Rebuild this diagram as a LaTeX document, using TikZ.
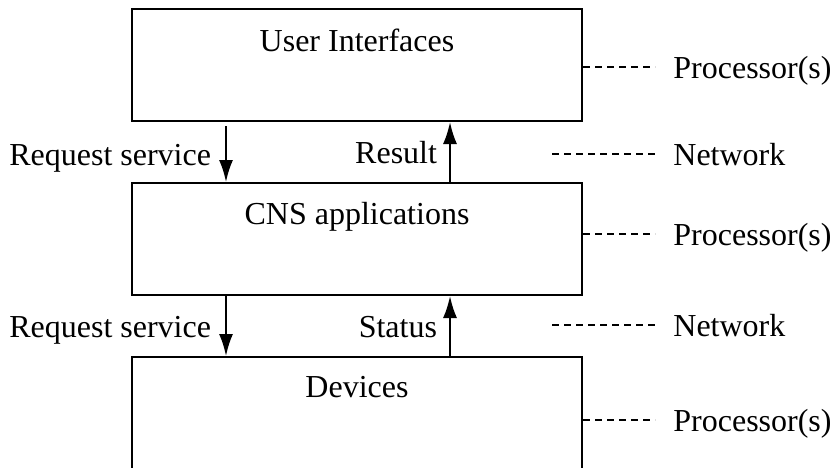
\documentclass[tikz,border=0pt]{standalone}
\usepackage{fontspec}
\setmainfont{Liberation Serif}
\usetikzlibrary{arrows.meta}

\begin{document}
\begin{tikzpicture}[x=0.5pt, y=-0.5pt,
    layer/.style={draw, line width=1pt, minimum width=225pt, minimum height=56pt, inner sep=0pt},
    txt/.style={font=\fontsize{16}{19}\selectfont, text height=11pt, text depth=0pt, inner sep=0pt},
    title/.style={txt, anchor=base},
    tag/.style={txt, anchor=west, inner xsep=9pt},
    flow/.style={line width=1pt, -{Latex[length=11pt, width=7pt]}},
    link/.style={line width=0.65pt, dash pattern=on 3.6pt off 2.4pt}]
            % Picture frame
            \clip (0,0) rectangle (833,467);

            % Draw the three layers
            \node[layer] (ui) at (357,65) {};
            \node[layer] (cns) at (357,239) {};
            \node[layer] (dev) at (357,413) {};
            \node[title] (ui-t) at (357,51) {User Interfaces};
            \node[title] (cns-t) at (357,224) {CNS applications};
            \node[title] (dev-t) at (357,397) {Devices};

            % Arrow columns
            \coordinate (down) at (226,0);
            \coordinate (up) at (450,0);

            % Between user interfaces and CNS applications
            \draw[flow] ([yshift=-2pt]ui.south -| down) -- node[txt, left=7pt] (req1) {Request service} (cns.north -| down);
            \draw[flow] (cns.north -| up) -- node[txt, left=6pt] (res) {Result} (ui.south -| up);

            % Between CNS applications and devices
            \draw[flow] (cns.south -| down) -- node[txt, left=7pt] (req2) {Request service} (dev.north -| down);
            \draw[flow] (dev.north -| up) -- node[txt, left=6pt] (stat) {Status} (cns.south -| up);

            % Processor(s) and Network legend
            \node[tag] (p1) at (655,67) {Processor(s)};
            \node[tag] (n1) at (655,154) {Network};
            \node[tag] (p2) at (655,234) {Processor(s)};
            \node[tag] (n2) at (655,325) {Network};
            \node[tag] (p3) at (655,420) {Processor(s)};
            \coordinate (n1s) at (552,154);
            \coordinate (n2s) at (552,325);

            \draw[link] (ui.east |- p1.west) -- (p1.west);
            \draw[link] (n1s) -- (n1.west);
            \draw[link] (cns.east |- p2.west) -- (p2.west);
            \draw[link] (n2s) -- (n2.west);
            \draw[link] (dev.east |- p3.west) -- (p3.west);
        \end{tikzpicture}
\end{document}
